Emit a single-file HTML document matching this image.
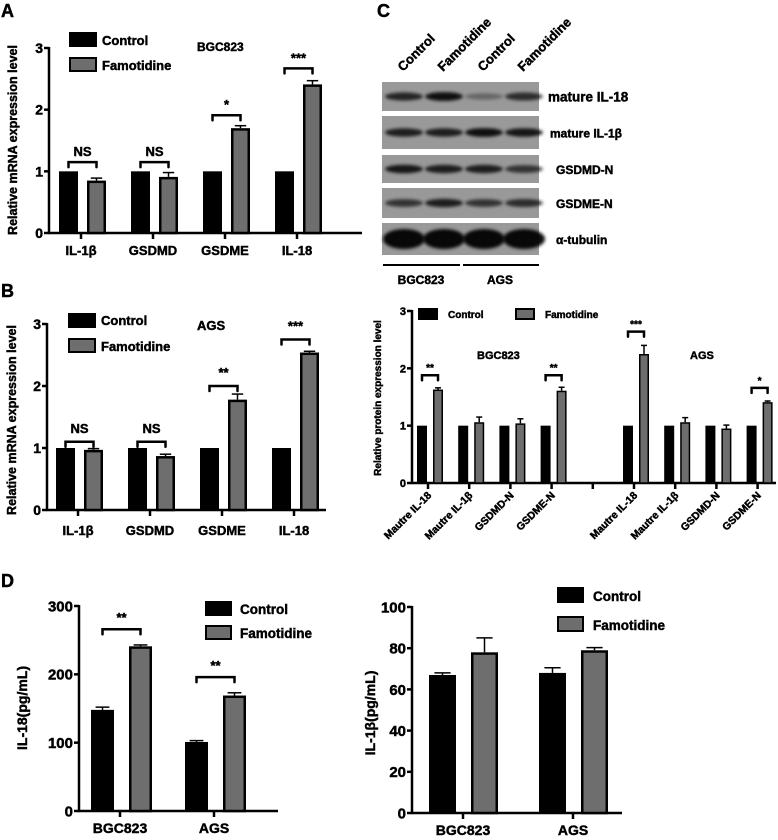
<!DOCTYPE html>
<html><head><meta charset="utf-8"><style>
html,body{margin:0;padding:0;background:#fff}
svg{display:block;font-family:"Liberation Sans",Arial,sans-serif;font-weight:bold}
svg text{stroke:#000;stroke-width:0.45px}
</style></head><body>
<svg id="fig" width="778" height="840" viewBox="0 0 778 840" xmlns="http://www.w3.org/2000/svg">
<defs><filter id="blur" x="-20%" y="-50%" width="140%" height="200%"><feGaussianBlur stdDeviation="1.5"/></filter></defs>
<text x="1" y="17" font-size="18">A</text>
<text x="1" y="297" font-size="18">B</text>
<text x="377" y="17" font-size="18">C</text>
<text x="1" y="587" font-size="18">D</text>
<g id="blot"></g>
<g id="chartA"></g>
<g id="chartB"></g>
<g id="chartC"></g>
<g id="chartD1"></g>
<g id="chartD2"></g>
</svg>
<script>
// ---- Panel A data ----
const catsA = ["IL-1β","GSDMD","GSDME","IL-18"];
const ctrlA = [1,1,1,1];
const famA = [0.85,0.91,1.70,2.41];
const errA = [0.04,0.07,0.04,0.06];
const sigA = ["NS","NS","*","***"];
const brA = [1.15,1.15,1.91,2.67];
const ticksA = [0,1,2,3];
// ---- Panel B data ----
const catsB = ["IL-1β","GSDMD","GSDME","IL-18"];
const ctrlB = [1,1,1,1];
const famB = [0.97,0.87,1.78,2.54];
const errB = [0.02,0.03,0.09,0.02];
const sigB = ["NS","NS","**","***"];
const brB = [1.1,1.1,2.0,2.75];
const ticksB = [0,1,2,3];
// ---- Panel C data ----
const catsC = ["Mautre IL-18","Mautre IL-1β","GSDMD-N","GSDME-N","","Mautre IL-18","Mautre IL-1β","GSDMD-N","GSDME-N"];
const ctrlC = [1,1,1,1,null,1,1,1,1];
const famC = [1.63,1.06,1.04,1.61,null,2.25,1.06,0.95,1.41];
const errC = [0.03,0.09,0.08,0.06,null,0.15,0.08,0.06,0.02];
const sigC = ["**","","","**","","***","","","*"];
const brC = [1.88,0,0,1.88,0,2.64,0,0,1.66];
const ticksC = [0,1,2,3];
// ---- Panel D data ----
const catsD = ["BGC823","AGS"];
const ctrlD1 = [148,101];
const famD1 = [241,169];
const ctrlErrD1 = [4,2];
const famErrD1 = [2,4];
const sigD1 = ["**","**"];
const brD1 = [266,196];
const ticksD1 = [0,100,200,300];
const ctrlD2 = [67,68];
const famD2 = [78,79];
const ctrlErrD2 = [1,2.5];
const famErrD2 = [7,1.3];
const ticksD2 = [0,20,40,60,80,100];
// ---- Blot data (band intensity per lane) ----
const blotRows = ["mature IL-18","mature IL-1β","GSDMD-N","GSDME-N","α-tubulin"];
const blotInt = [[0.8,0.95,0.35,0.75],[0.85,0.85,0.95,0.9],[0.9,0.85,0.85,0.7],[0.7,0.85,0.7,0.75],[1,1,1,1]];

const NS="http://www.w3.org/2000/svg";
function mk(parent,tag,attrs,text){const e=document.createElementNS(NS,tag);for(const k in attrs)e.setAttribute(k,attrs[k]);if(text!==undefined)e.textContent=text;parent.appendChild(e);return e;}

function chart(g,o){
  const yS=v=>o.y0-(v/o.yMax)*(o.y0-o.yTop);
  const xC=i=>o.c0+i*o.step;
  const ya=mk(g,'line',{x1:o.ax,y1:o.yTop-1,x2:o.ax,y2:o.y0,stroke:'#000','stroke-width':o.lw});
  
  const xa=mk(g,'line',{x1:o.ax-1,y1:o.y0,x2:o.xEnd,y2:o.y0,stroke:'#000','stroke-width':o.lw});
  
  o.ticks.forEach(t=>{
    const y=yS(t);
    mk(g,'line',{x1:o.ax-5,y1:y,x2:o.ax,y2:y,stroke:'#000','stroke-width':o.lw});
    const tl=mk(g,'text',{x:o.ax-6,y:y+o.tfs*0.36,'font-size':o.tfs,'text-anchor':'end'},String(t));
    
  });
  o.cats.forEach((c,i)=>{
    const x=xC(i);
    mk(g,'line',{x1:x,y1:o.y0,x2:x,y2:o.y0+6,stroke:'#000','stroke-width':o.lw});
    if(c){
      let t;
      if(o.rot){t=mk(g,'text',{x:x+4,y:o.y0+13,'font-size':o.xfs,'text-anchor':'end',transform:`rotate(-45 ${x+4} ${o.y0+13})`},c);}
      else{t=mk(g,'text',{x:x,y:o.y0+o.xdy,'font-size':o.xfs,'text-anchor':'middle'},c);}
      
    }
    if(o.ctrl[i]==null)return;
    const cx=x+o.cOff, fx=x+o.fOff, bw=o.bw;
    const cb=mk(g,'rect',{x:cx,y:yS(o.ctrl[i]),width:bw,height:o.y0-yS(o.ctrl[i]),fill:'#000'});
    
    if(o.cErr&&o.cErr[i]){const ey=yS(o.ctrl[i]+o.cErr[i]);mk(g,'line',{x1:cx+bw/2,y1:yS(o.ctrl[i]),x2:cx+bw/2,y2:ey,stroke:'#000','stroke-width':1.5});mk(g,'line',{x1:cx+bw*0.2,y1:ey,x2:cx+bw*0.8,y2:ey,stroke:'#000','stroke-width':1.5});}
    if(o.fErr&&o.fErr[i]){const ey=yS(o.fam[i]+o.fErr[i]);mk(g,'line',{x1:fx+bw/2,y1:yS(o.fam[i]),x2:fx+bw/2,y2:ey,stroke:'#000','stroke-width':1.5});mk(g,'line',{x1:fx+bw*0.2,y1:ey,x2:fx+bw*0.8,y2:ey,stroke:'#000','stroke-width':1.5});}
    const b=o.bs/2;
    const fb=mk(g,'rect',{x:fx+b,y:yS(o.fam[i])+b,width:bw-o.bs,height:o.y0-yS(o.fam[i])-b,fill:'#6e6e6e',stroke:'#000','stroke-width':o.bs});
    
    if(o.sig&&o.sig[i]){
      const by=yS(o.br[i]), x1=cx+bw/2, x2=fx+bw/2;
      const p=mk(g,'path',{d:`M${x1} ${by+5}V${by}H${x2}V${by+5}`,fill:'none',stroke:'#000','stroke-width':o.lw,'stroke-linecap':'round'});
      
      const st=mk(g,'text',{x:(x1+x2)/2,y:by-o.sdy,'font-size':o.sfs,'text-anchor':'middle'},o.sig[i]);
      
    }
  });
  const yt=mk(g,'text',{x:o.ytx,y:o.yty,'font-size':o.yfs,'text-anchor':'middle',transform:`rotate(-90 ${o.ytx} ${o.yty})`},o.ytitle);
  
  const L=o.leg;
  const l1=mk(g,'rect',{x:L.x,y:L.y1,width:L.w,height:L.h,fill:'#000'});
  
  const t1=mk(g,'text',{x:L.tx1,y:L.ty1,'font-size':L.fs},'Control');
  
  const l2=mk(g,'rect',{x:L.x2+1,y:L.y2+1,width:L.w-2,height:L.h-2,fill:'#6e6e6e',stroke:'#000','stroke-width':2});
  
  const t2=mk(g,'text',{x:L.tx2,y:L.ty2,'font-size':L.fs},'Famotidine');
  
  (o.notes||[]).forEach(n=>{const t=mk(g,'text',{x:n[1],y:n[2],'font-size':n[3]},n[0]);});
}

chart(document.getElementById('chartA'),{cats:catsA,ctrl:ctrlA,fam:famA,fErr:errA,sig:sigA,br:brA,ticks:ticksA,yMax:3,
 ax:49,xEnd:362,y0:233,yTop:48,c0:81,step:72,cOff:-22,fOff:6,bw:19,bs:2.5,lw:2.5,tfs:14,xfs:13,xdy:22,sfs:13,sdy:6,
 ytitle:'Relative mRNA expression level',ytx:17,yty:140,yfs:12.5,
 leg:{x:69,y1:32,x2:69,y2:57,w:28,h:15,tx1:102,ty1:45,tx2:102,ty2:70,fs:13},notes:[['BGC823',197,51,12]]});
chart(document.getElementById('chartB'),{cats:catsB,ctrl:ctrlB,fam:famB,fErr:errB,sig:sigB,br:brB,ticks:ticksB,yMax:3,
 ax:47,xEnd:326,y0:510,yTop:324,c0:78,step:72,cOff:-22,fOff:6,bw:19,bs:2.5,lw:2.5,tfs:14,xfs:13,xdy:25,sfs:13,sdy:9,
 ytitle:'Relative mRNA expression level',ytx:16,yty:420,yfs:12.5,
 leg:{x:68,y1:313,x2:68,y2:338,w:28,h:15,tx1:101,ty1:325,tx2:101,ty2:351,fs:13},notes:[['AGS',197,330,13]]});
chart(document.getElementById('chartC'),{cats:catsC,ctrl:ctrlC,fam:famC,fErr:errC,sig:sigC,br:brC,ticks:ticksC,yMax:3,
 ax:412,xEnd:776,y0:483,yTop:311,c0:428,step:41.2,cOff:-11,fOff:5,bw:10,bs:1.5,lw:2.5,tfs:11,xfs:10.5,rot:true,sfs:10,sdy:4,
 ytitle:'Relative protein expression level',ytx:381,yty:398,yfs:10,
 leg:{x:418,y1:308,x2:515,y2:308,w:20,h:12,tx1:448,ty1:318,tx2:545,ty2:318,fs:10},notes:[['BGC823',477,359,11],['AGS',690,359,11]]});
chart(document.getElementById('chartD1'),{cats:catsD,ctrl:ctrlD1,fam:famD1,cErr:ctrlErrD1,fErr:famErrD1,sig:sigD1,br:brD1,ticks:ticksD1,yMax:300,
 ax:79,xEnd:278,y0:811,yTop:606,c0:120,step:94,cOff:-29,fOff:9,bw:23,bs:2.5,lw:2.5,tfs:15,xfs:14,xdy:22,sfs:13,sdy:7,
 ytitle:'IL-18(pg/mL)',ytx:27,yty:708,yfs:14,
 leg:{x:205,y1:601,x2:205,y2:625,w:27,h:15,tx1:240,ty1:614,tx2:240,ty2:638,fs:13.5}});
chart(document.getElementById('chartD2'),{cats:catsD,ctrl:ctrlD2,fam:famD2,cErr:ctrlErrD2,fErr:famErrD2,ticks:ticksD2,yMax:100,
 ax:412,xEnd:622,y0:813,yTop:607,c0:463,step:110,cOff:-34,fOff:8,bw:27,bs:2.5,lw:2.5,tfs:15,xfs:14,xdy:22,sfs:13,sdy:7,
 ytitle:'IL-1β(pg/mL)',ytx:375,yty:713,yfs:14,
 leg:{x:557,y1:587,x2:557,y2:616,w:27,h:16,tx1:593,ty1:601,tx2:593,ty2:630,fs:13.5}});

(function(){
  const g=document.getElementById('blot');
  const rows=[[82,111],[116,149],[155,183],[188,218],[223,255]];
  const lanes=[407,447,487,527];
  const labX=[548,550,556,556,556];
  const laneNames=["Control","Famotidine","Control","Famotidine"];
  lanes.forEach((x,i)=>{const t=mk(g,'text',{x:x-4,y:72,'font-size':13,transform:`rotate(-45 ${x-4} 72)`},laneNames[i]);});
  rows.forEach((r,ri)=>{
    const s=mk(g,'rect',{x:382,y:r[0],width:157,height:r[1]-r[0],fill:'#999999'});
    
    lanes.forEach((x,li)=>{
      const v=blotInt[ri][li]; const cy=(r[0]+r[1])/2;
      const ry = ri===4?10:2.5+v*2;
      const b=mk(g,'ellipse',{cx:x-3,cy:cy,rx:ri===4?21:19,ry:ry,fill:'#000','fill-opacity':Math.min(1,v*0.95),filter:'url(#blur)'});
      
    });
    const t=mk(g,'text',{x:labX[ri],y:(r[0]+r[1])/2+5,'font-size':ri===0?13.5:12},blotRows[ri]);
    
  });
  mk(g,'line',{x1:383,y1:265,x2:460,y2:265,stroke:'#000','stroke-width':2});
  mk(g,'line',{x1:463,y1:265,x2:539,y2:265,stroke:'#000','stroke-width':2});
  const a=mk(g,'text',{x:421,y:284,'font-size':12,'text-anchor':'middle'},'BGC823');
  const b=mk(g,'text',{x:500,y:284,'font-size':12,'text-anchor':'middle'},'AGS');
})();
</script>
</body></html>
